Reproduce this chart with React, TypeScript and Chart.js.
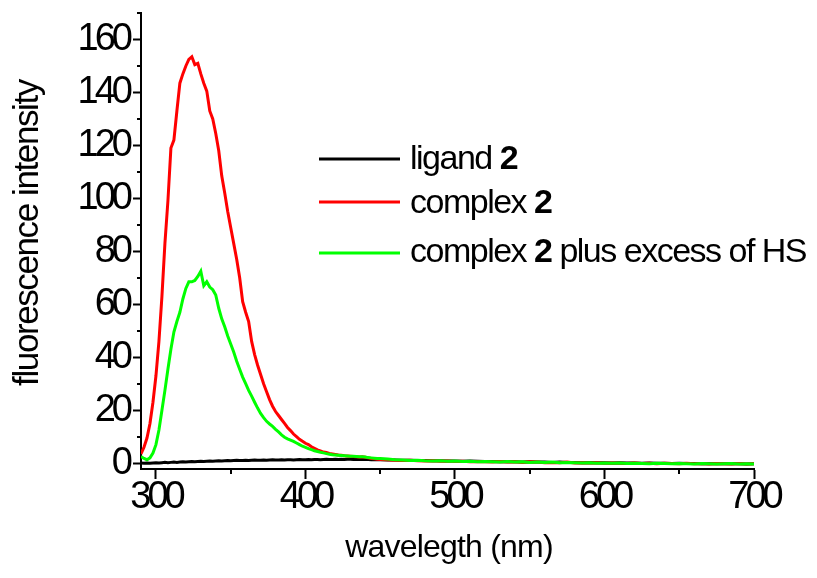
import { useEffect, useRef } from 'react';
import { Chart, registerables } from 'chart.js';

Chart.register(...registerables);

// Emission wavelengths (nm)
const wavelengths = [
  290, 292, 294, 296, 298, 300, 302, 304, 306, 308,
  310, 312, 314, 316, 318, 320, 322, 324, 326, 328,
  330, 332, 334, 336, 338, 340, 342, 344, 346, 348,
  350, 352, 354, 356, 358, 360, 362, 364, 366, 368,
  370, 372, 374, 376, 378, 380, 382, 384, 386, 388,
  390, 392, 394, 396, 398, 400, 402, 404, 406, 408,
  410, 412, 414, 416, 418, 420, 422, 424, 426, 428,
  430, 432, 434, 436, 438, 440, 442, 444, 446, 448,
  450, 455, 460, 465, 470, 475, 480, 485, 490, 495,
  500, 505, 510, 515, 520, 525, 530, 535, 540, 545,
  550, 555, 560, 565, 570, 575, 580, 585, 590, 595,
  600, 605, 610, 615, 620, 625, 630, 635, 640, 645,
  650, 655, 660, 665, 670, 675, 680, 685, 690, 695,
  700,
];

// Fluorescence intensity of ligand 2
const ligand2 = [
  0.1, 0.0, 0.1, 0.0, 0.1, 0.2, 0.1, 0.2, 0.3, 0.2,
  0.3, 0.4, 0.3, 0.4, 0.5, 0.4, 0.5, 0.6, 0.5, 0.6,
  0.7, 0.6, 0.7, 0.8, 0.7, 0.8, 0.9, 0.8, 0.9, 1.0,
  0.9, 1.0, 1.1, 1.0, 1.0, 1.1, 1.0, 1.1, 1.2, 1.1,
  1.1, 1.2, 1.1, 1.2, 1.3, 1.2, 1.2, 1.3, 1.2, 1.3,
  1.3, 1.2, 1.3, 1.4, 1.3, 1.3, 1.4, 1.3, 1.4, 1.4,
  1.3, 1.4, 1.5, 1.4, 1.4, 1.5, 1.4, 1.5, 1.4, 1.5,
  1.5, 1.4, 1.5, 1.4, 1.5, 1.4, 1.4, 1.3, 1.4, 1.3,
  1.3, 1.2, 1.2, 1.1, 1.1, 1.0, 1.0, 0.9, 0.9, 0.8,
  0.8, 0.7, 0.8, 0.7, 0.6, 0.6, 0.5, 0.6, 0.5, 0.4,
  0.5, 0.4, 0.4, 0.3, 0.4, 0.3, 0.3, 0.2, 0.3, 0.2,
  0.2, 0.1, 0.2, 0.1, 0.1, 0.0, 0.1, 0.0, 0.0, -0.1,
  0.0, -0.1, -0.1, -0.2, -0.1, -0.2, -0.2, -0.1, -0.2, -0.3,
  -0.2,
];

// Fluorescence intensity of complex 2
const complex2 = [
  3.5, 6, 9.5, 15, 23, 33, 46, 63, 83, 99,
  119, 122, 133, 143.5, 147, 150, 152.5, 153.5, 150.5, 151,
  147, 143.5, 140.5, 133, 130, 124.5, 118, 108.5, 102, 95,
  89, 83, 77, 70, 61, 57, 53.5, 46, 41, 37,
  33.5, 30, 27, 24, 21.5, 19.5, 18, 16.5, 15, 13.5,
  12.3, 11, 10, 9, 8.3, 7.5, 7, 6.2, 5.6, 5,
  4.6, 4.2, 4, 3.7, 3.5, 3.3, 3.1, 3, 2.8, 2.7,
  2.6, 2.5, 2.4, 2.3, 2.4, 2.2, 2.0, 1.8, 1.7, 1.5,
  1.4, 1.3, 1.1, 1.0, 1.1, 0.9, 0.8, 0.9, 0.7, 0.8,
  0.6, 0.7, 0.5, 0.6, 0.5, 0.4, 0.6, 0.4, 0.5, 0.3,
  0.5, 0.4, 0.2, 0.3, 0.2, 0.4, 0.1, 0.2, 0.1, 0.2,
  0.0, 0.1, 0.0, -0.1, 0.1, -0.1, 0.0, -0.2, 0.0, -0.1,
  -0.2, 0.0, -0.2, -0.1, -0.3, -0.1, -0.2, -0.3, -0.1, -0.3,
  -0.2,
];

// Fluorescence intensity of complex 2 with excess HS
const complex2HS = [
  2.5, 1.8, 1.3, 2, 3.8, 7, 12.5, 20, 27.5, 35.5,
  43, 49.5, 53.5, 57, 62, 66, 68.5, 68.5, 69, 70.5,
  72.5, 67, 68.5, 66.5, 65.5, 63.5, 58.5, 54.5, 51.5, 48,
  45, 42, 38.5, 35.5, 32.5, 30, 27.5, 25.3, 23, 20.8,
  18.8, 17.2, 15.8, 14.8, 13.9, 12.8, 11.8, 10.7, 9.8, 9.2,
  8.7, 8.2, 7.6, 7, 6.4, 6, 5.5, 5.1, 4.7, 4.4,
  4.1, 3.9, 3.6, 3.4, 3.2, 3.1, 3.0, 2.9, 2.8, 2.7,
  2.6, 2.6, 2.5, 2.4, 2.4, 2.3, 2.1, 2.0, 1.9, 1.8,
  1.8, 1.6, 1.3, 1.2, 1.0, 1.1, 0.9, 0.8, 0.9, 0.7,
  0.8, 0.6, 0.7, 0.5, 0.6, 0.5, 0.4, 0.6, 0.4, 0.5,
  0.3, 0.4, 0.3, 0.4, 0.2, 0.3, 0.2, 0.1, 0.2, 0.0,
  0.1, 0.0, 0.1, -0.1, 0.0, -0.1, -0.2, 0.0, -0.1, -0.2,
  -0.1, -0.2, -0.3, -0.1, -0.2, -0.3, -0.2, -0.1, -0.3, -0.2,
  -0.3,
];

const xTicks = [300, 400, 500, 600, 700];
const xMinorTicks = [350, 450, 550, 650];
const yTicks = [0, 20, 40, 60, 80, 100, 120, 140, 160];
const yMinorTicks = [10, 30, 50, 70, 90, 110, 130, 150, 170];

const xTitle = 'wavelegth (nm)';
const yTitle = 'fluorescence intensity';

const seriesNames = ['ligand ', 'complex ', 'complex '];
const seriesSuffix = ['', '', ' plus excess of HS'];
const seriesColors = ['#000000', '#ff0000', '#00ff00'];

const FONT = '"Liberation Sans", Arial, Helvetica, sans-serif';

const toPoints = (ys: number[]) => ys.map((y, i) => ({ x: wavelengths[i], y }));

const decorations = {
  id: 'decorations',
  beforeDraw(chart: any) {
    // tight spacing for the tick numbers
    chart.ctx.letterSpacing = '-4px';
  },
  afterDraw(chart: any) {
    const ctx = chart.ctx as CanvasRenderingContext2D;
    const xs = chart.scales.x;
    const ys = chart.scales.y;
    const area = chart.chartArea;

    ctx.save();
    ctx.strokeStyle = '#000';
    ctx.lineWidth = 2;
    ctx.beginPath();
    for (const v of xMinorTicks) {
      const px = Math.round(xs.getPixelForValue(v));
      ctx.moveTo(px, area.bottom);
      ctx.lineTo(px, area.bottom + 5);
    }
    for (const v of yMinorTicks) {
      const py = Math.round(ys.getPixelForValue(v));
      ctx.moveTo(area.left - 4, py);
      ctx.lineTo(area.left, py);
    }
    ctx.stroke();

    ctx.fillStyle = '#000';
    ctx.textBaseline = 'alphabetic';

    // x title
    ctx.font = `32px ${FONT}`;
    (ctx as any).letterSpacing = '-0.8px';
    ctx.textAlign = 'center';
    ctx.fillText(xTitle, 449, 557);

    // y title
    ctx.save();
    ctx.translate(38, 233);
    ctx.rotate(-Math.PI / 2);
    ctx.font = `35px ${FONT}`;
    (ctx as any).letterSpacing = '-1.4px';
    ctx.fillText(yTitle, 0, 0);
    ctx.restore();

    // legend
    const lineY = [159, 202, 253];
    const textY = [169, 213, 262];
    ctx.textAlign = 'left';
    (ctx as any).letterSpacing = '-1.5px';
    for (let i = 0; i < seriesNames.length; i++) {
      ctx.strokeStyle = seriesColors[i];
      ctx.lineWidth = 3;
      ctx.beginPath();
      ctx.moveTo(319, lineY[i]);
      ctx.lineTo(400, lineY[i]);
      ctx.stroke();

      let x = 410;
      ctx.font = `34px ${FONT}`;
      ctx.fillText(seriesNames[i], x, textY[i]);
      x += ctx.measureText(seriesNames[i]).width;
      ctx.font = `bold 34px ${FONT}`;
      ctx.fillText('2', x, textY[i]);
      x += ctx.measureText('2').width;
      if (seriesSuffix[i]) {
        ctx.font = `34px ${FONT}`;
        ctx.fillText(seriesSuffix[i], x, textY[i]);
      }
    }
    ctx.restore();
  },
};

export default function App() {
  const canvasRef = useRef<HTMLCanvasElement>(null);

  useEffect(() => {
    const canvas = canvasRef.current;
    if (!canvas) return;
    const tickFont = { family: FONT, size: 38, lineHeight: 1 };
    const chart = new Chart(canvas, {
      type: 'line',
      data: {
        datasets: [
          { label: 'ligand 2', data: toPoints(ligand2), borderColor: seriesColors[0], order: 2 },
          { label: 'complex 2', data: toPoints(complex2), borderColor: seriesColors[1], order: 1 },
          { label: 'complex 2 plus excess of HS', data: toPoints(complex2HS), borderColor: seriesColors[2], order: 0 },
        ],
      },
      options: {
        animation: false,
        responsive: false,
        devicePixelRatio: 1,
        layout: { padding: { top: 13, right: 63, left: 0, bottom: 0 } },
        plugins: { legend: { display: false }, tooltip: { enabled: false } },
        elements: {
          point: { radius: 0 },
          line: { borderWidth: 3, tension: 0, fill: false },
        },
        scales: {
          x: {
            type: 'linear',
            min: 290,
            max: 700,
            afterBuildTicks: (s: any) => {
              s.ticks = xTicks.map((v) => ({ value: v }));
            },
            afterFit: (s: any) => {
              s.height = 109;
              s.paddingLeft = 0;
              s.paddingRight = 0;
            },
            grid: {
              display: true,
              drawOnChartArea: false,
              drawTicks: true,
              tickLength: 10,
              tickWidth: 2,
              tickColor: '#000',
            },
            border: { display: true, color: '#000', width: 2 },
            ticks: { font: tickFont, color: '#000', padding: 0, maxRotation: 0, autoSkip: false },
          },
          y: {
            type: 'linear',
            min: -2.2,
            max: 170,
            afterBuildTicks: (s: any) => {
              s.ticks = yTicks.map((v) => ({ value: v }));
            },
            afterFit: (s: any) => {
              s.width = 141;
              s.paddingTop = 0;
              s.paddingBottom = 0;
            },
            grid: {
              display: true,
              drawOnChartArea: false,
              drawTicks: true,
              tickLength: 8,
              tickWidth: 2,
              tickColor: '#000',
            },
            border: { display: true, color: '#000', width: 2 },
            ticks: { font: tickFont, color: '#000', padding: 4, autoSkip: false },
          },
        },
      },
      plugins: [decorations],
    });
    return () => chart.destroy();
  }, []);

  return (
    <div style={{ position: 'absolute', left: 0, top: 0, width: 817, height: 578, background: '#fff' }}>
      <canvas ref={canvasRef} width={817} height={578} style={{ display: 'block' }} />
    </div>
  );
}
